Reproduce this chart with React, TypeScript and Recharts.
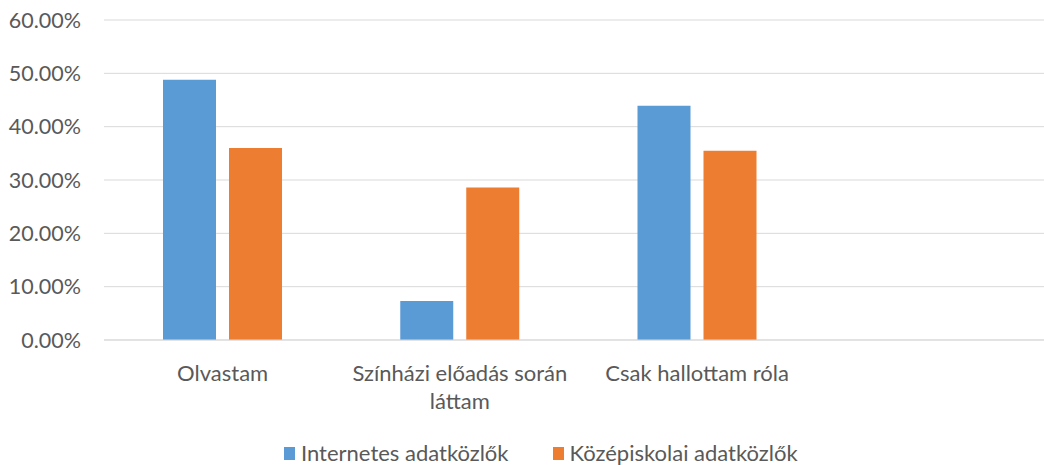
import React from 'react';
import { BarChart, Bar, XAxis, YAxis, CartesianGrid, Legend } from 'recharts';

const categories = ['Olvastam', 'Színházi előadás során láttam', 'Csak hallottam róla', ''];
const internetes = [0.488, 0.073, 0.439, null];
const kozepiskolai = [0.36, 0.286, 0.355, null];
const yTicks = [0, 0.1, 0.2, 0.3, 0.4, 0.5, 0.6];
const seriesNames = ['Internetes adatközlők', 'Középiskolai adatközlők'];

const data = categories.map((name, i) => ({
  name,
  internetes: internetes[i],
  kozepiskolai: kozepiskolai[i],
}));

const FONT = 'Lato, "Open Sans", sans-serif';
const TEXT = '#595959';
const BLUE = '#5B9BD5';
const ORANGE = '#ED7D31';

// greedy word wrap by character count (category band is ~237px wide)
const wrapLabel = (label: string, maxChars = 23) => {
  const lines: string[] = [];
  let cur = '';
  label.split(' ').forEach((w) => {
    const next = cur ? cur + ' ' + w : w;
    if (next.length > maxChars && cur) {
      lines.push(cur);
      cur = w;
    } else {
      cur = next;
    }
  });
  if (cur) lines.push(cur);
  return lines;
};

const CategoryTick = (props: any) => {
  const { x, y, payload } = props;
  const lines = wrapLabel(String(payload.value));
  return (
    <text x={x} y={y} textAnchor="middle" fontSize={22} fontFamily={FONT} fill={TEXT}>
      {lines.map((line, i) => (
        <tspan key={i} x={x} dy={i === 0 ? 15.6 : 28}>
          {line}
        </tspan>
      ))}
    </text>
  );
};

const renderLegend = (props: any) => {
  const { payload } = props;
  return (
    <div style={{ display: 'flex', fontFamily: FONT, fontSize: 22, color: TEXT, lineHeight: '26px', whiteSpace: 'nowrap' }}>
      {payload.map((entry: any, i: number) => (
        <div key={i} style={{ display: 'flex', alignItems: 'center', marginRight: 44 }}>
          <span style={{ display: 'inline-block', width: 11, height: 13, background: entry.color, marginRight: 6 }} />
          <span>{entry.value}</span>
        </div>
      ))}
    </div>
  );
};

const App: React.FC = () => {
  return (
    <div style={{ position: 'absolute', left: 0, top: 0, width: 1044, height: 465, overflow: 'hidden', background: '#fff' }}>
      <BarChart
        width={1053}
        height={465}
        data={data}
        margin={{ top: 20, right: 0, bottom: 0, left: 0 }}
        barGap={13}
      >
        <CartesianGrid vertical={false} stroke="#D9D9D9" />
        <XAxis
          dataKey="name"
          height={125}
          axisLine={{ stroke: '#D9D9D9' }}
          tickLine={false}
          tickMargin={19}
          interval={0}
          tick={<CategoryTick />}
        />
        <YAxis
          width={104}
          domain={[0, 0.6]}
          ticks={yTicks}
          axisLine={false}
          tickLine={false}
          tickMargin={17}
          tickFormatter={(v: number) => (v * 100).toFixed(2) + '%'}
          tick={{ fill: TEXT, fontSize: 21.5, fontFamily: FONT }}
        />
        <Legend
          layout="horizontal"
          verticalAlign="middle"
          align="center"
          content={renderLegend}
          wrapperStyle={{ left: 284, top: 440, width: 'auto' }}
        />
        <Bar dataKey="internetes" name={seriesNames[0]} fill={BLUE} barSize={53} isAnimationActive={false} />
        <Bar dataKey="kozepiskolai" name={seriesNames[1]} fill={ORANGE} barSize={53} isAnimationActive={false} />
      </BarChart>
    </div>
  );
};

export default App;
